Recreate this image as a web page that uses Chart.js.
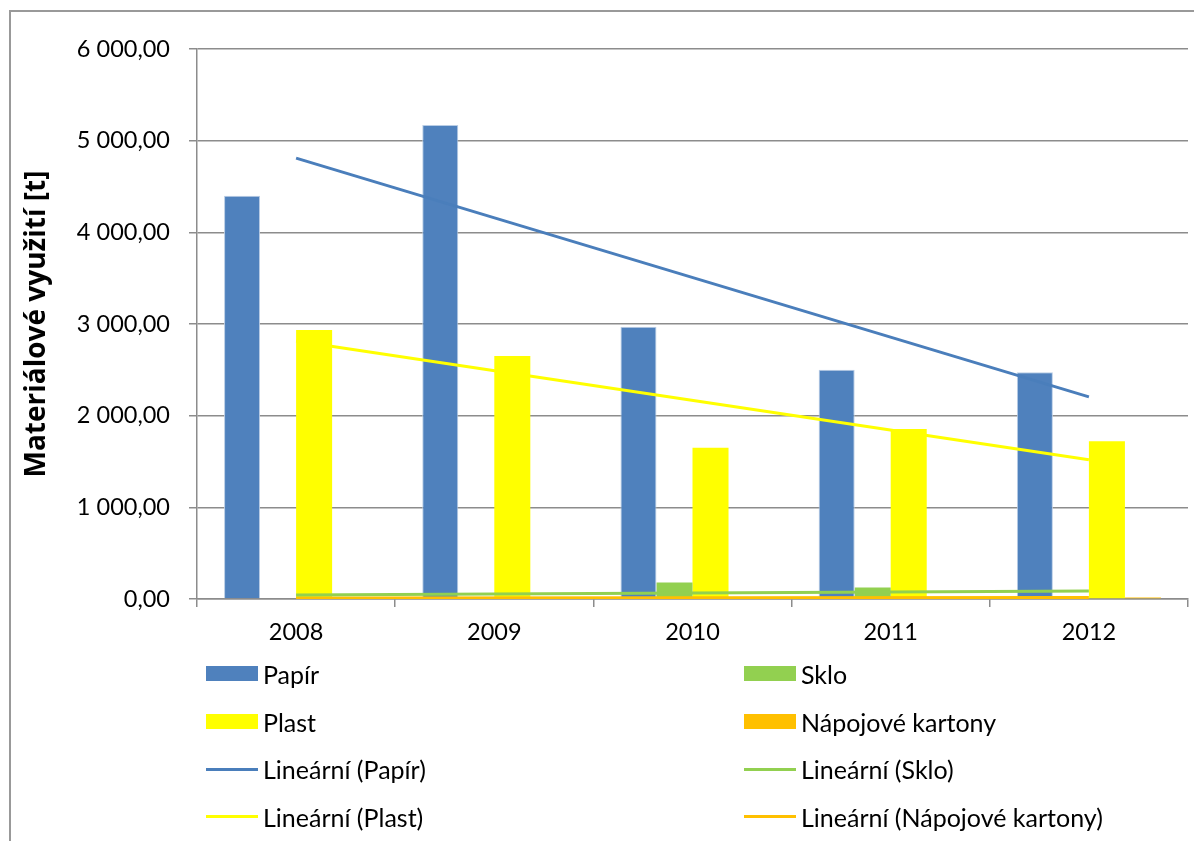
<!DOCTYPE html>
<html lang="cs">
<head>
<meta charset="utf-8">
<title>Materiálové využití</title>
<script src="https://cdn.jsdelivr.net/npm/chart.js@4/dist/chart.umd.min.js"></script>
<style>
    html, body { margin: 0; padding: 0; background: #fff; }
    #obal { position: relative; width: 1194px; height: 841px; overflow: hidden; background: #fff; }
    #ramecek { position: absolute; left: 9px; top: 10px; width: 1400px; height: 1000px;
               border-left: 2px solid #999; border-top: 2px solid #999; }
    #graf { position: absolute; left: 0; top: 0; }
    #legenda { position: absolute; left: 206px; top: 650px;
               display: grid; grid-template-columns: 538px auto; grid-auto-rows: 47.7px;
               font-family: Lato, "Open Sans", sans-serif; font-size: 25px; color: #000; }
    .polozka { display: flex; align-items: center; white-space: nowrap; }
    .vzorek { width: 52px; margin-right: 5px; }
</style>
</head>
<body>
<div id="obal">
    <div id="ramecek"></div>
    <canvas id="graf" width="1194" height="841"></canvas>
    <div id="legenda"></div>
</div>
<script>
// roky na ose x
const roky = ['2008', '2009', '2010', '2011', '2012'];

// materiálové využití [t]
const papir = [4400, 5170, 2970, 2500, 2475];
const sklo = [8, 12, 180, 125, 5];
const plast = [2935, 2650, 1650, 1855, 1720];
const kartony = [12, 14, 16, 15, 17];

// lineární trendy - jen začátek a konec
const trendPapir = [4810, null, null, null, 2205];
const trendSklo = [45, null, null, null, 87];
const trendPlast = [2815, null, null, null, 1520];
const trendKartony = [12, null, null, null, 17];

const pismo = 'Lato, "Open Sans", sans-serif';
const seda = '#8c8c8c';

// 6 000,00
const formatCisla = (v) => {
    const [cela, des] = Number(v).toFixed(2).split('.');
    return cela.replace(/\B(?=(\d{3})+(?!\d))/g, ' ') + ',' + des;
};

const sloupce = (nazev, data, barva, okraj) => ({
    type: 'bar', label: nazev, data: data,
    backgroundColor: barva, borderColor: okraj, borderWidth: okraj ? 1 : 0,
    categoryPercentage: 0.727, barPercentage: 1, order: 2
});

const trend = (nazev, data, barva) => ({
    type: 'line', label: nazev, data: data,
    borderColor: barva, backgroundColor: barva, borderWidth: 3,
    pointRadius: 0, spanGaps: true, order: 1
});

const ctx = document.getElementById('graf').getContext('2d');
const graf = new Chart(ctx, {
    type: 'bar',
    data: {
        labels: roky,
        datasets: [
            sloupce('Papír', papir, '#4F81BD', '#B9CDE5'),
            sloupce('Sklo', sklo, '#92D050'),
            sloupce('Plast', plast, '#FFFF00'),
            sloupce('Nápojové kartony', kartony, '#FFC000'),
            trend('Lineární (Papír)', trendPapir, '#4A7EBB'),
            trend('Lineární (Sklo)', trendSklo, '#92D050'),
            trend('Lineární (Plast)', trendPlast, '#FFFF00'),
            trend('Lineární (Nápojové kartony)', trendKartony, '#FFC000')
        ]
    },
    options: {
        responsive: false,
        animation: false,
        layout: { padding: { top: 49, right: 6, bottom: 182, left: 0 } },
        plugins: {
            legend: { display: false },
            tooltip: { enabled: false }
        },
        scales: {
            x: {
                grid: { drawOnChartArea: false, drawTicks: true, tickLength: 8, color: seda, lineWidth: 1.5 },
                border: { color: seda, width: 1.5 },
                ticks: { color: '#000', font: { family: pismo, size: 23.5 }, padding: 11 },
                afterFit: (s) => { s.height = 60; }
            },
            y: {
                min: 0, max: 6000,
                grid: { color: seda, lineWidth: 1.5, tickLength: 8 },
                border: { color: seda, width: 1.5 },
                ticks: { stepSize: 1000, color: '#000', font: { family: pismo, size: 23.5 }, padding: 19,
                         callback: (v) => formatCisla(v) },
                title: { display: true, text: 'Materiálové využití [t]', color: '#000',
                         font: { family: '"Open Sans", sans-serif', size: 28, weight: 'bold' },
                         padding: { top: 20 } },
                afterFit: (s) => { s.width = 197; }
            }
        }
    }
});

// legenda ve dvou sloupcích
const legenda = document.getElementById('legenda');
graf.data.datasets.forEach(ds => {
    const polozka = document.createElement('div');
    polozka.className = 'polozka';
    const vzorek = document.createElement('span');
    vzorek.className = 'vzorek';
    vzorek.style.height = ds.type === 'line' ? '3px' : '15px';
    vzorek.style.background = ds.type === 'line' ? ds.borderColor : ds.backgroundColor;
    const text = document.createElement('span');
    text.textContent = ds.label;
    polozka.appendChild(vzorek);
    polozka.appendChild(text);
    legenda.appendChild(polozka);
});
</script>
</body>
</html>
